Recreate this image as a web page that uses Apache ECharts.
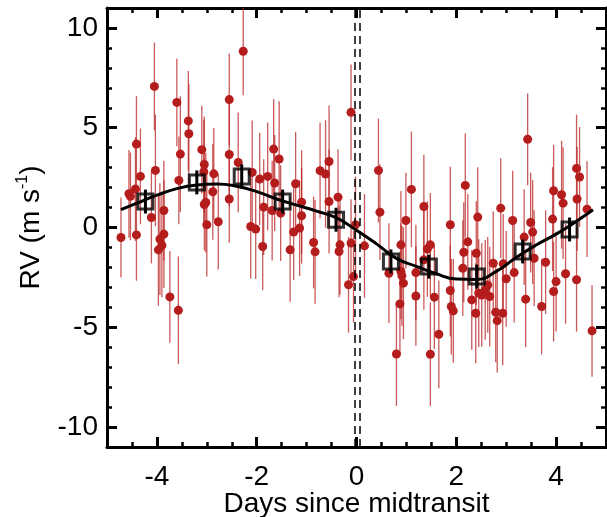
<!DOCTYPE html>
<html>
<head>
<meta charset="utf-8">
<script src="https://cdn.jsdelivr.net/npm/echarts@6/dist/echarts.min.js"></script>
<style>
html, body { margin: 0; padding: 0; background: #fff; }
#main { width: 607px; height: 517px; }
</style>
</head>
<body>
<div id="main"></div>
<script>
// RV points (days since midtransit, m/s) and their 1-sigma errors
var ptX = [-4.72,-4.56,-4.53,-4.43,-4.41,-4.41,-4.33,-4.11,-4.05,-4.03,-3.86,-3.86,-3.94,-3.90,-3.97,-3.74,-3.57,-3.60,-3.56,-3.53,
  -3.37,-3.36,-3.10,-3.05,-3.06,-3.02,-3.05,-3.00,-2.86,-2.88,-2.77,-2.55,-2.55,-2.55,-2.37,-2.27,-2.12,-2.02,-2.09,-1.94,
  -1.88,-1.86,-1.78,-1.69,-1.66,-1.64,-1.55,-1.52,-1.33,-1.26,-1.22,-1.10,-1.10,-1.14,-0.86,-0.83,-0.73,-0.62,-0.55,-0.55,
  -0.37,-0.33,-0.35,-0.11,-0.11,-0.02,0.16,-0.06,-0.16,0.44,0.47,0.99,1.10,1.35,0.89,0.89,0.91,0.94,0.65,0.87,
  0.80,1.19,1.19,1.48,1.42,1.35,1.56,1.48,1.65,1.88,1.88,1.90,1.94,2.18,2.15,2.23,2.13,2.31,2.39,2.43,
  2.40,2.45,2.51,2.58,2.63,2.67,2.74,2.79,2.82,2.93,2.94,2.89,3.00,3.13,3.16,3.36,3.39,3.43,3.49,3.53,
  3.56,3.71,3.79,3.93,3.95,3.95,4.00,4.11,4.14,4.19,4.41,4.42,4.47,4.41,4.62,4.72];
var ptY = [-0.50,1.69,1.56,1.93,4.18,-0.37,2.56,0.50,7.07,2.86,0.85,-0.33,-0.58,-0.90,-1.12,-3.48,-4.15,6.27,2.36,3.68,
  5.34,4.70,3.90,3.16,2.80,1.25,1.15,0.14,2.69,1.79,0.29,6.41,3.66,1.43,3.26,8.83,0.05,-0.08,2.76,2.43,
  -0.95,1.02,2.56,0.85,3.93,2.23,3.43,0.72,-1.12,-0.23,2.19,1.27,0.59,-0.03,-0.75,-1.22,2.85,2.68,3.31,1.30,
  1.52,-0.87,-1.20,5.77,-0.78,0.14,-0.92,-2.46,-2.87,2.86,0.77,0.35,1.91,1.05,-0.87,-2.20,-2.42,-2.79,-2.29,-3.83,
  -6.34,-2.26,-3.43,-0.87,-1.08,-1.62,-3.49,-6.35,-5.35,0.14,-3.16,-3.96,-4.18,2.11,-1.24,-0.72,-2.04,-3.63,-4.30,0.52,
  -1.29,-3.29,-3.38,-3.13,-2.88,-3.46,-1.79,-4.25,-4.67,-4.30,-1.82,0.97,-2.57,0.35,-2.26,-0.48,-3.59,4.42,0.25,-0.23,
  -1.54,-3.96,-1.74,0.42,1.84,-3.21,-2.71,1.64,1.22,-2.32,2.96,1.43,2.53,-2.62,0.92,-5.18];
var ptErr = [2.0,2.2,2.2,2.6,2.4,2.3,2.4,2.3,2.2,2.8,2.5,2.7,2.8,2.6,2.8,2.3,2.7,2.2,2.2,2.9,
  2.5,2.5,2.2,2.4,2.6,2.5,2.3,2.6,2.3,2.4,2.4,2.3,2.6,2.2,2.5,2.2,2.6,2.5,2.6,2.3,
  2.2,2.4,2.7,2.5,2.5,2.4,2.9,2.4,2.6,2.4,2.6,2.6,2.4,2.4,2.3,2.6,2.4,2.7,2.8,2.6,
  2.4,2.5,2.3,2.4,2.2,2.4,2.6,2.3,2.4,2.6,2.4,2.4,2.9,2.6,2.7,2.4,2.5,2.8,2.5,2.6,
  2.6,2.4,2.5,2.6,2.4,2.5,2.6,2.6,2.7,2.9,2.3,2.4,2.6,2.6,2.5,2.4,2.4,2.5,2.5,2.5,
  2.6,2.7,2.6,2.5,2.4,2.5,2.6,2.5,2.6,2.6,2.5,2.5,2.4,2.5,2.5,2.4,2.4,2.3,2.5,2.6,
  2.4,2.4,2.6,2.6,2.3,2.5,2.5,2.7,2.8,2.5,2.7,2.6,2.5,2.6,2.4,2.3];

// binned means
var binX = [-4.23,-3.20,-2.30,-1.48,-0.41,0.69,1.45,2.41,3.33,4.27];
var binY = [1.30,2.26,2.56,1.30,0.39,-1.70,-1.96,-2.46,-1.20,-0.10];
var binErr = [0.6,0.6,0.6,0.6,0.6,0.6,0.6,0.6,0.6,0.6];

// orbit model curve
var fitX = [-4.72,-4.40,-4.00,-3.60,-3.20,-2.80,-2.40,-2.00,-1.60,-1.20,-0.80,-0.40,0.00,0.40,0.80,1.20,1.60,2.00,2.40,2.80,3.20,3.60,4.00,4.40,4.74];
var fitY = [0.89,1.22,1.62,1.95,2.13,2.18,2.07,1.80,1.43,1.12,0.82,0.48,-0.14,-0.82,-1.55,-1.95,-2.32,-2.58,-2.60,-2.20,-1.50,-0.88,-0.33,0.30,0.89];

// transit window
var transitX = [-0.04, 0.06];

var xLabels = [-4, -2, 0, 2, 4];
var yLabels = [-10, -5, 0, 5, 10];

var FONT = "'Liberation Sans', Arial, Helvetica, sans-serif";

var ptData = ptX.map(function (x, i) { return [x, ptY[i], ptErr[i]]; });
var binData = binX.map(function (x, i) { return [x, binY[i], binErr[i]]; });
var fitData = fitX.map(function (x, i) { return [x, fitY[i]]; });

function errBar(color, width) {
  return function (params, api) {
    var x = api.value(0), y = api.value(1), e = api.value(2);
    var a = api.coord([x, y - e]), b = api.coord([x, y + e]);
    return {
      type: 'line',
      shape: { x1: a[0], y1: a[1], x2: b[0], y2: b[1] },
      style: { stroke: color, lineWidth: width }
    };
  };
}

var black = '#000';
function minorAxis(pos, isX) {
  return {
    type: 'value', gridIndex: 0, position: pos,
    min: isX ? -5 : -11, max: isX ? 5 : 11, interval: isX ? 0.5 : 1,
    axisLine: { show: true, onZero: false, lineStyle: { color: black, width: 3 } },
    axisTick: { show: true, inside: true, length: 5, lineStyle: { color: black, width: 2.5 } },
    axisLabel: { show: false },
    splitLine: { show: false }
  };
}
function majorAxis(pos, isX) {
  return {
    type: 'value', gridIndex: 1, position: pos,
    min: isX ? -5 : -11, max: isX ? 5 : 11,
    axisLine: { show: false, onZero: false },
    axisTick: { show: true, inside: true, length: 10, customValues: isX ? xLabels : yLabels,
      lineStyle: { color: black, width: 3 } },
    axisLabel: { show: false },
    splitLine: { show: false }
  };
}

var xBottom = minorAxis('bottom', true);
xBottom.axisLabel = { show: true, customValues: xLabels, fontSize: 28, color: black, fontFamily: FONT, margin: 16 };
xBottom.name = 'Days since midtransit';
xBottom.nameLocation = 'middle';
xBottom.nameGap = 43;
xBottom.nameMoveOverlap = false;
xBottom.nameTextStyle = { fontSize: 28, color: black, fontFamily: FONT };

var yLeft = minorAxis('left', false);
yLeft.axisLabel = { show: true, customValues: yLabels, fontSize: 28, color: black, fontFamily: FONT, margin: 9 };
yLeft.name = '{t|RV (m s}{s|-1}{t|)}';
yLeft.nameLocation = 'middle';
yLeft.nameGap = 60;
yLeft.nameMoveOverlap = false;
yLeft.nameTextStyle = {
  rich: {
    t: { fontSize: 28, color: black, fontFamily: FONT, lineHeight: 32 },
    s: { fontSize: 16, color: black, fontFamily: FONT, lineHeight: 18, verticalAlign: 'top' }
  }
};

var gridBox = { left: 107, right: 1, top: 8, bottom: 70, containLabel: false, outerBoundsMode: 'none' };

var myChart = echarts.init(document.getElementById('main'));
var option = {
  animation: false,
  backgroundColor: '#fff',
  grid: [gridBox, Object.assign({}, gridBox)],
  xAxis: [xBottom, minorAxis('top', true), majorAxis('bottom', true), majorAxis('top', true)],
  yAxis: [yLeft, minorAxis('right', false), majorAxis('left', false), majorAxis('right', false)],
  series: [
    {
      type: 'custom', name: 'err', xAxisIndex: 0, yAxisIndex: 0,
      renderItem: errBar('rgba(185,35,35,0.75)', 1.3),
      data: ptData, clip: true, z: 1, silent: true
    },
    {
      type: 'scatter', xAxisIndex: 0, yAxisIndex: 0,
      data: ptData, symbolSize: 9,
      itemStyle: { color: '#b51d1d', opacity: 1 }, z: 2, silent: true
    },
    {
      type: 'line', xAxisIndex: 0, yAxisIndex: 0,
      data: fitData, smooth: 0.5, showSymbol: false,
      lineStyle: { color: black, width: 3 }, z: 3, silent: true,
      markLine: {
        silent: true, symbol: ['none', 'none'],
        label: { show: false },
        lineStyle: { color: black, width: 1.5, type: [8, 5] },
        data: transitX.map(function (v) { return { xAxis: v }; })
      }
    },
    {
      type: 'custom', xAxisIndex: 0, yAxisIndex: 0,
      renderItem: errBar(black, 3),
      data: binData, z: 4, silent: true
    },
    {
      type: 'scatter', xAxisIndex: 0, yAxisIndex: 0,
      data: binData, symbol: 'rect', symbolSize: 15,
      itemStyle: { color: 'rgba(255,255,255,0)', borderColor: black, borderWidth: 3 },
      z: 5, silent: true
    }
  ]
};
myChart.setOption(option);
</script>
</body>
</html>
